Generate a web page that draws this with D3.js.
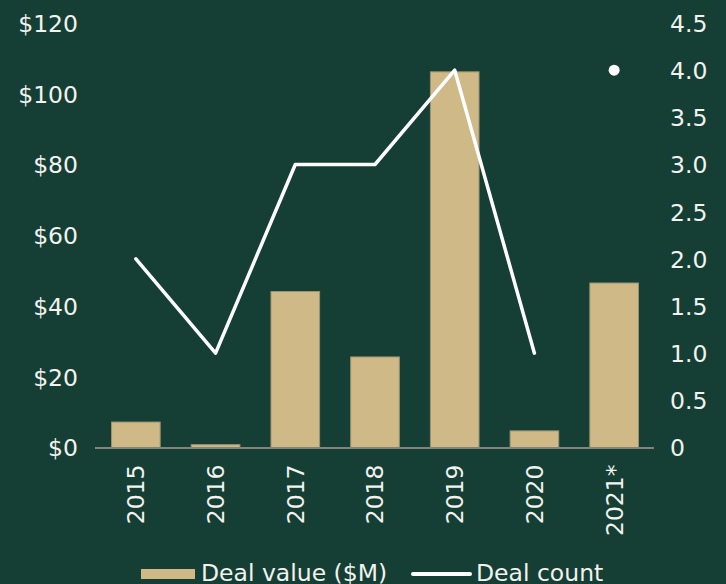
<!DOCTYPE html>
<html>
<head>
<meta charset="utf-8">
<script src="https://cdn.jsdelivr.net/npm/d3@7"></script>
<style>
  html, body { margin: 0; padding: 0; background: #153f35; }
  svg { display: block; }
  text { font-family: "DejaVu Sans", sans-serif; fill: #f2f2ee; }
</style>
</head>
<body>
<svg id="chart" width="726" height="584"></svg>
<script>
const years = ["2015", "2016", "2017", "2018", "2019", "2020", "2021*"];
const dealValue = [7.2, 0.8, 44.1, 25.6, 106.2, 4.7, 46.5];
const dealCount = [2, 1, 3, 3, 4, 1, null];
const dealCount2021 = 4;
const leftTicks = [0, 20, 40, 60, 80, 100, 120];
const rightTicks = [0, 0.5, 1, 1.5, 2, 2.5, 3, 3.5, 4, 4.5];
const legendLabels = ["Deal value ($M)", "Deal count"];

const W = 726, H = 584;
const svg = d3.select("#chart");
svg.append("rect").attr("width", W).attr("height", H).attr("fill", "#153f35");

const x = d3.scaleBand().domain(years).range([96, 654]).paddingInner(0.39).paddingOuter(0.195);
const yL = d3.scaleLinear().domain([0, 120]).range([447.5, 23]);
const yR = d3.scaleLinear().domain([0, 4.5]).range([447.5, 23]);

const FS = 23.5;

// bars
svg.append("g").selectAll("rect").data(years).join("rect")
  .attr("x", d => x(d))
  .attr("y", (d, i) => yL(dealValue[i]))
  .attr("width", x.bandwidth())
  .attr("height", (d, i) => yL(0) - yL(dealValue[i]))
  .attr("fill", "#cfb987")
  .attr("stroke", "#9c9270")
  .attr("stroke-width", 1);

// baseline
svg.append("line")
  .attr("x1", x.range()[0] - 1).attr("x2", x.range()[1])
  .attr("y1", yL(0) + 0.5).attr("y2", yL(0) + 0.5)
  .attr("stroke", "#85847a").attr("stroke-width", 2);

// left axis
const leftAxis = d3.axisLeft(yL).tickValues(leftTicks).tickFormat(d => "$" + d).tickSize(0).tickPadding(0);
const gL = svg.append("g").attr("transform", "translate(78,0)").call(leftAxis);
gL.select(".domain").remove();
gL.selectAll("text").attr("font-size", FS).attr("font-family", "DejaVu Sans").attr("fill", "#f2f2ee").attr("dy", "0.36em");

// right axis
const rightAxis = d3.axisRight(yR).tickValues(rightTicks).tickFormat(d => d === 0 ? "0" : d3.format(".1f")(d)).tickSize(0).tickPadding(0);
const gR = svg.append("g").attr("transform", "translate(670,0)").call(rightAxis);
gR.select(".domain").remove();
gR.selectAll("text").attr("font-size", FS).attr("font-family", "DejaVu Sans").attr("fill", "#f2f2ee").attr("dy", "0.36em");

// x labels
const xAxis = d3.axisBottom(x).tickSize(0).tickPadding(0);
const gX = svg.append("g").attr("transform", `translate(0,${yL(0)})`).call(xAxis);
gX.select(".domain").remove();
gX.selectAll("text")
  .attr("font-size", FS).attr("font-family", "DejaVu Sans").attr("fill", "#f2f2ee")
  .attr("text-anchor", "end")
  .attr("transform", "translate(0,17) rotate(-90)")
  .attr("x", 0).attr("y", 0).attr("dy", "0.36em");

// line
const cx = d => x(d) + x.bandwidth() / 2;
const lineData = years.map((d, i) => ({ d, v: dealCount[i] })).filter(p => p.v != null);
svg.append("path")
  .datum(lineData)
  .attr("fill", "none")
  .attr("stroke", "#ffffff")
  .attr("stroke-width", 3.5)
  .attr("stroke-linejoin", "round")
  .attr("stroke-linecap", "round")
  .attr("d", d3.line().x(p => cx(p.d)).y(p => yR(p.v)));

svg.append("circle")
  .attr("cx", cx(years[6])).attr("cy", yR(dealCount2021)).attr("r", 5.5).attr("fill", "#ffffff");

// legend
const lg = svg.append("g");
lg.append("rect").attr("x", 141).attr("y", 569).attr("width", 54).attr("height", 10).attr("fill", "#cfb987");
lg.append("text").attr("x", 201).attr("y", 581).attr("font-size", FS).text(legendLabels[0]);
lg.append("line").attr("x1", 413).attr("x2", 470).attr("y1", 574).attr("y2", 574)
  .attr("stroke", "#ffffff").attr("stroke-width", 4).attr("stroke-linecap", "round");
lg.append("text").attr("x", 476).attr("y", 581).attr("font-size", FS).text(legendLabels[1]);
</script>
</body>
</html>
